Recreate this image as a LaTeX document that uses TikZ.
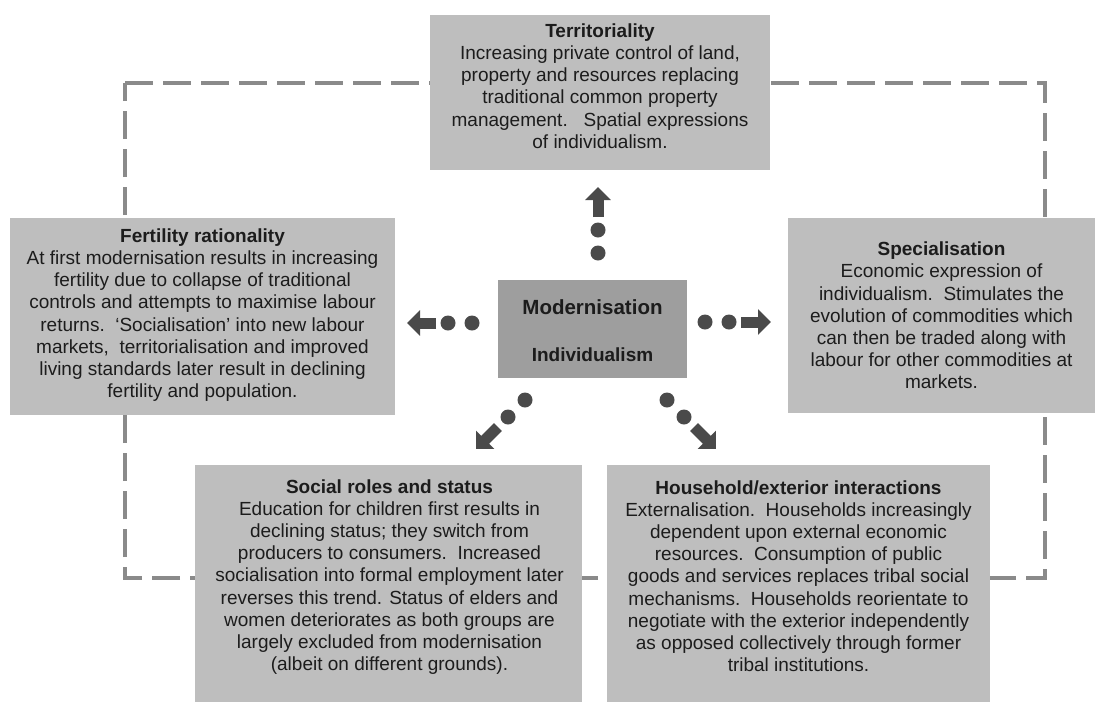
\documentclass[tikz,border=0pt]{standalone}
\usepackage{fontspec}
\setmainfont{Liberation Sans}
\usetikzlibrary{arrows.meta}
\definecolor{boxgray}{HTML}{BEBEBE}
\definecolor{centergray}{HTML}{9E9E9E}
\definecolor{darkarrow}{HTML}{4A4A4A}
\definecolor{loopgray}{HTML}{8A8A8A}
\definecolor{txt}{HTML}{1C1C1C}
\begin{document}
\begin{tikzpicture}[x=1pt,y=-1pt,
  infobox/.style={draw=none, fill=boxgray, inner sep=0pt},
  infotext/.style={text=txt, align=center, inner sep=0pt, font=\fontsize{19}{22.2}\selectfont},
  centerbox/.style={draw=none, fill=centergray, inner sep=0pt},
  loopline/.style={draw=loopgray, line width=4.5pt, dash pattern=on 28pt off 10pt},
  dotmark/.style={fill=darkarrow},
  blockarrow/.style={draw=darkarrow, line width=11pt, -{Triangle[length=13pt,width=25pt]}}
]
\useasboundingbox (0,0) rectangle (1098,702);
\fill[white] (0,0) rectangle (1098,702);

% dashed feedback loop (behind the boxes)
\coordinate (lt) at (125,83);
\coordinate (rt) at (1045,83);
\coordinate (rb) at (1045,578);
\coordinate (lb) at (125,578);
\draw[loopline] (lt) -- (rt) -- (rb) -- (lb) -- cycle;

% boxes
\node[infobox, minimum width=340pt, minimum height=155pt] (terr) at (600,92.5) {};
\node[infotext] (terrtext) at (600,86) {\textbf{Territoriality}\\Increasing private control of land,\\property and resources replacing\\traditional common property\\management.\ \ \ Spatial expressions\\of individualism.};

\node[infobox, minimum width=385pt, minimum height=197pt] (fert) at (202.5,316.5) {};
\node[infotext] (ferttext) at (202.5,315) {\textbf{Fertility rationality}\\At first modernisation results in increasing\\fertility due to collapse of traditional\\controls and attempts to maximise labour\\returns.\ \ ‘Socialisation’ into new labour\\markets,\ \ territorialisation and improved\\living standards later result in declining\\fertility and population.};

\node[infobox, minimum width=307pt, minimum height=195pt] (spec) at (941.5,315.5) {};
\node[infotext] (spectext) at (941.5,315.5) {\textbf{Specialisation}\\Economic expression of\\individualism.\ \ Stimulates the\\evolution of commodities which\\can then be traded along with\\labour for other commodities at\\markets.};

\node[infobox, minimum width=387pt, minimum height=237pt] (social) at (388.5,583.5) {};
\node[infotext] (socialtext) at (389.5,577) {\textbf{Social roles and status}\\Education for children first results in\\declining status; they switch from\\producers to consumers.\ \ Increased\\socialisation into formal employment later\\reverses this trend. Status of elders and\\women deteriorates as both groups are\\largely excluded from modernisation\\(albeit on different grounds).};

\node[infobox, minimum width=383pt, minimum height=237pt] (house) at (798.5,583.5) {};
\node[infotext] (housetext) at (798.5,576) {\textbf{Household/exterior interactions}\\Externalisation.\ \ Households increasingly\\dependent upon external economic\\resources.\ \ Consumption of public\\goods and services replaces tribal social\\mechanisms.\ \ Households reorientate to\\negotiate with the exterior independently\\as opposed collectively through former\\tribal institutions.};

% central node
\node[centerbox, minimum width=189pt, minimum height=98pt] (core) at (592.5,329) {};
\node[text=txt, align=center, inner sep=0pt, font=\fontsize{20.5}{47}\selectfont\bfseries] (coretext) at (592.5,331) {Modernisation\\{\fontsize{19}{47}\selectfont Individualism}};

% dotted block arrows from the core outwards
% up
\coordinate (u1) at (598,253); \coordinate (u2) at (598,230);
\coordinate (us) at (598,217); \coordinate (ue) at (598,187);
\fill[dotmark] (u1) circle (7.5pt); \fill[dotmark] (u2) circle (7.5pt);
\draw[blockarrow] (us) -- (ue);
% left
\coordinate (l1) at (472,323); \coordinate (l2) at (448,323);
\coordinate (ls) at (436,323); \coordinate (le) at (407,323);
\fill[dotmark] (l1) circle (7.5pt); \fill[dotmark] (l2) circle (7.5pt);
\draw[blockarrow] (ls) -- (le);
% right
\coordinate (r1) at (705,322); \coordinate (r2) at (729,322);
\coordinate (rs) at (741,322); \coordinate (re) at (771,322);
\fill[dotmark] (r1) circle (7.5pt); \fill[dotmark] (r2) circle (7.5pt);
\draw[blockarrow] (rs) -- (re);
% lower left
\coordinate (ll1) at (525,400); \coordinate (ll2) at (508,417);
\coordinate (lls) at (498,427); \coordinate (lle) at (476,449);
\fill[dotmark] (ll1) circle (7.5pt); \fill[dotmark] (ll2) circle (7.5pt);
\draw[blockarrow] (lls) -- (lle);
% lower right
\coordinate (lr1) at (667,400); \coordinate (lr2) at (684,417);
\coordinate (lrs) at (694,427); \coordinate (lre) at (716,449);
\fill[dotmark] (lr1) circle (7.5pt); \fill[dotmark] (lr2) circle (7.5pt);
\draw[blockarrow] (lrs) -- (lre);
\end{tikzpicture}
\end{document}
